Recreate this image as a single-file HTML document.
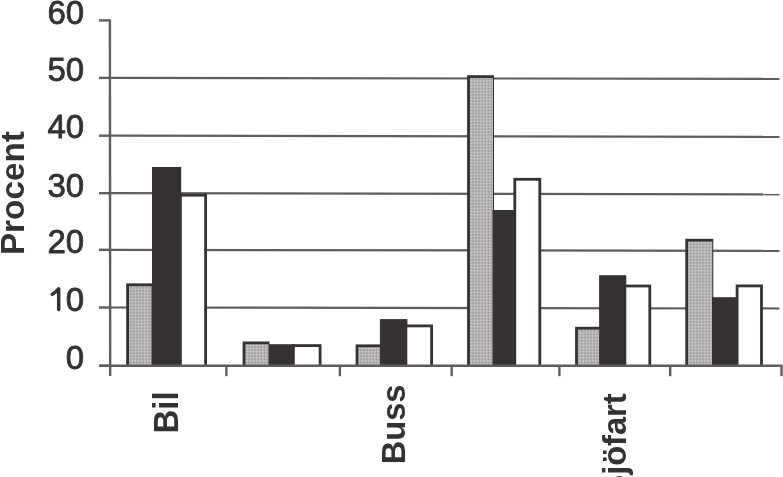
<!DOCTYPE html>
<html><head><meta charset="utf-8"><style>
html,body{margin:0;padding:0;background:#fff;}
body{width:783px;height:477px;overflow:hidden;}
svg{display:block;filter:blur(0.6px);}
text{font-family:"Liberation Sans",sans-serif;fill:#353233;}
</style></head><body>
<svg width="783" height="477" viewBox="0 0 783 477">
<defs>
<pattern id="ht" width="4.4" height="4.4" patternUnits="userSpaceOnUse" patternTransform="rotate(45)">
<rect width="4.4" height="4.4" fill="#c6c6c6"/>
<rect x="0" y="0" width="2.2" height="2.2" fill="#a0a0a0"/>
<rect x="2.2" y="2.2" width="2.2" height="2.2" fill="#a0a0a0"/>
</pattern>
</defs>
<rect width="783" height="477" fill="#fff"/>

<line x1="109.9" y1="77.9" x2="779.5" y2="78.9" stroke="#5e5e5e" stroke-width="2.2"/>
<line x1="109.9" y1="135.7" x2="779.5" y2="136.9" stroke="#5e5e5e" stroke-width="2.2"/>
<line x1="109.9" y1="193.2" x2="779.5" y2="194.3" stroke="#5e5e5e" stroke-width="2.2"/>
<line x1="109.9" y1="249.8" x2="779.5" y2="250.9" stroke="#5e5e5e" stroke-width="2.2"/>
<line x1="109.9" y1="307.5" x2="779.5" y2="308.5" stroke="#5e5e5e" stroke-width="2.2"/>
<rect x="126.2" y="283.4" width="26.3" height="82.4" fill="#363233"/>
<rect x="129.0" y="286.2" width="22.5" height="79.6" fill="url(#ht)"/>
<rect x="152.0" y="167.0" width="29.2" height="198.8" fill="#363233"/>
<rect x="179.0" y="193.8" width="28.0" height="172.0" fill="#363233"/>
<rect x="181.8" y="196.6" width="22.4" height="169.2" fill="#fff"/>
<rect x="242.6" y="341.5" width="26.9" height="24.3" fill="#363233"/>
<rect x="245.4" y="344.3" width="23.1" height="21.5" fill="url(#ht)"/>
<rect x="269.0" y="344.2" width="26.0" height="21.6" fill="#363233"/>
<rect x="292.0" y="344.2" width="29.5" height="21.6" fill="#363233"/>
<rect x="294.8" y="347.0" width="23.9" height="18.8" fill="#fff"/>
<rect x="355.6" y="344.4" width="25.4" height="21.4" fill="#363233"/>
<rect x="358.4" y="347.2" width="21.6" height="18.6" fill="url(#ht)"/>
<rect x="379.9" y="319.1" width="27.5" height="46.7" fill="#363233"/>
<rect x="404.5" y="324.5" width="28.5" height="41.3" fill="#363233"/>
<rect x="407.3" y="327.3" width="22.9" height="38.5" fill="#fff"/>
<rect x="467.1" y="75.2" width="26.9" height="290.6" fill="#363233"/>
<rect x="469.9" y="78.0" width="23.1" height="287.8" fill="url(#ht)"/>
<rect x="492.5" y="210.0" width="24.0" height="155.8" fill="#363233"/>
<rect x="513.4" y="177.9" width="27.8" height="187.9" fill="#363233"/>
<rect x="516.2" y="180.7" width="22.2" height="185.1" fill="#fff"/>
<rect x="575.1" y="326.8" width="25.9" height="39.0" fill="#363233"/>
<rect x="577.9" y="329.6" width="22.1" height="36.2" fill="url(#ht)"/>
<rect x="599.1" y="275.2" width="27.2" height="90.6" fill="#363233"/>
<rect x="623.5" y="284.6" width="27.7" height="81.2" fill="#363233"/>
<rect x="626.3" y="287.4" width="22.1" height="78.4" fill="#fff"/>
<rect x="685.3" y="238.8" width="28.0" height="127.0" fill="#363233"/>
<rect x="688.1" y="241.6" width="24.2" height="124.2" fill="url(#ht)"/>
<rect x="712.0" y="297.2" width="26.6" height="68.6" fill="#363233"/>
<rect x="735.7" y="284.5" width="27.2" height="81.3" fill="#363233"/>
<rect x="738.5" y="287.3" width="21.6" height="78.5" fill="#fff"/>
<line x1="109.9" y1="19.4" x2="110.2" y2="376" stroke="#5e5e5e" stroke-width="2.4"/>
<line x1="100" y1="365.8" x2="782.5" y2="365.8" stroke="#5e5e5e" stroke-width="2.6"/>
<line x1="99" y1="20.4" x2="109.9" y2="20.4" stroke="#5e5e5e" stroke-width="2.4"/>
<line x1="99" y1="77.9" x2="109.9" y2="77.9" stroke="#5e5e5e" stroke-width="2.4"/>
<line x1="99" y1="135.7" x2="109.9" y2="135.7" stroke="#5e5e5e" stroke-width="2.4"/>
<line x1="99" y1="193.2" x2="109.9" y2="193.2" stroke="#5e5e5e" stroke-width="2.4"/>
<line x1="99" y1="249.8" x2="109.9" y2="249.8" stroke="#5e5e5e" stroke-width="2.4"/>
<line x1="99" y1="307.5" x2="109.9" y2="307.5" stroke="#5e5e5e" stroke-width="2.4"/>
<line x1="99" y1="365.8" x2="109.9" y2="365.8" stroke="#5e5e5e" stroke-width="2.4"/>
<line x1="226.4" y1="365.8" x2="226.4" y2="376.2" stroke="#5e5e5e" stroke-width="2.4"/>
<line x1="339.9" y1="365.8" x2="339.9" y2="376.2" stroke="#5e5e5e" stroke-width="2.4"/>
<line x1="451.7" y1="365.8" x2="451.7" y2="376.2" stroke="#5e5e5e" stroke-width="2.4"/>
<line x1="559.4" y1="365.8" x2="559.4" y2="376.2" stroke="#5e5e5e" stroke-width="2.4"/>
<line x1="670.2" y1="365.8" x2="670.2" y2="376.2" stroke="#5e5e5e" stroke-width="2.4"/>
<line x1="781.5" y1="365.8" x2="781.5" y2="376.2" stroke="#5e5e5e" stroke-width="2.4"/>
<path d="M52.3 294.3 Q55.6 292.4 58.6 288.9 M58.7 288.9 L58.7 309.6" fill="none" stroke="#353233" stroke-width="3.5" stroke-linecap="round"/>
<text transform="translate(84.1,23.5) scale(1,1.015)" font-size="33" text-anchor="end" stroke="#353233" stroke-width="0.8">60</text>
<text transform="translate(84.1,81.2) scale(1,1.015)" font-size="33" text-anchor="end" stroke="#353233" stroke-width="0.8">50</text>
<text transform="translate(84.1,138.4) scale(1,1.015)" font-size="33" text-anchor="end" stroke="#353233" stroke-width="0.8">40</text>
<text transform="translate(84.1,197.2) scale(1,1.015)" font-size="33" text-anchor="end" stroke="#353233" stroke-width="0.8">30</text>
<text transform="translate(84.1,253.2) scale(1,1.015)" font-size="33" text-anchor="end" stroke="#353233" stroke-width="0.8">20</text>
<text transform="translate(84.1,310.9) scale(1,1.015)" font-size="33" text-anchor="end" stroke="#353233" stroke-width="0.8">0</text>
<text transform="translate(84.1,369.2) scale(1,1.015)" font-size="33" text-anchor="end" stroke="#353233" stroke-width="0.8">0</text>
<text transform="translate(23.6,193.1) rotate(-90)" font-size="33.3" font-weight="bold" text-anchor="middle">Procent</text>
<text transform="translate(178.3,391.3) rotate(-90) scale(1,1.09)" font-size="33" font-weight="bold" text-anchor="end">Bil</text>
<text transform="translate(405.4,384.5) rotate(-90) scale(1,1.045)" font-size="32.6" font-weight="bold" text-anchor="end">Buss</text>
<text transform="translate(626.4,393.4) rotate(-90) scale(1,1.02)" font-size="32.6" font-weight="bold" text-anchor="end">Sjöfart</text>
</svg>
</body></html>
